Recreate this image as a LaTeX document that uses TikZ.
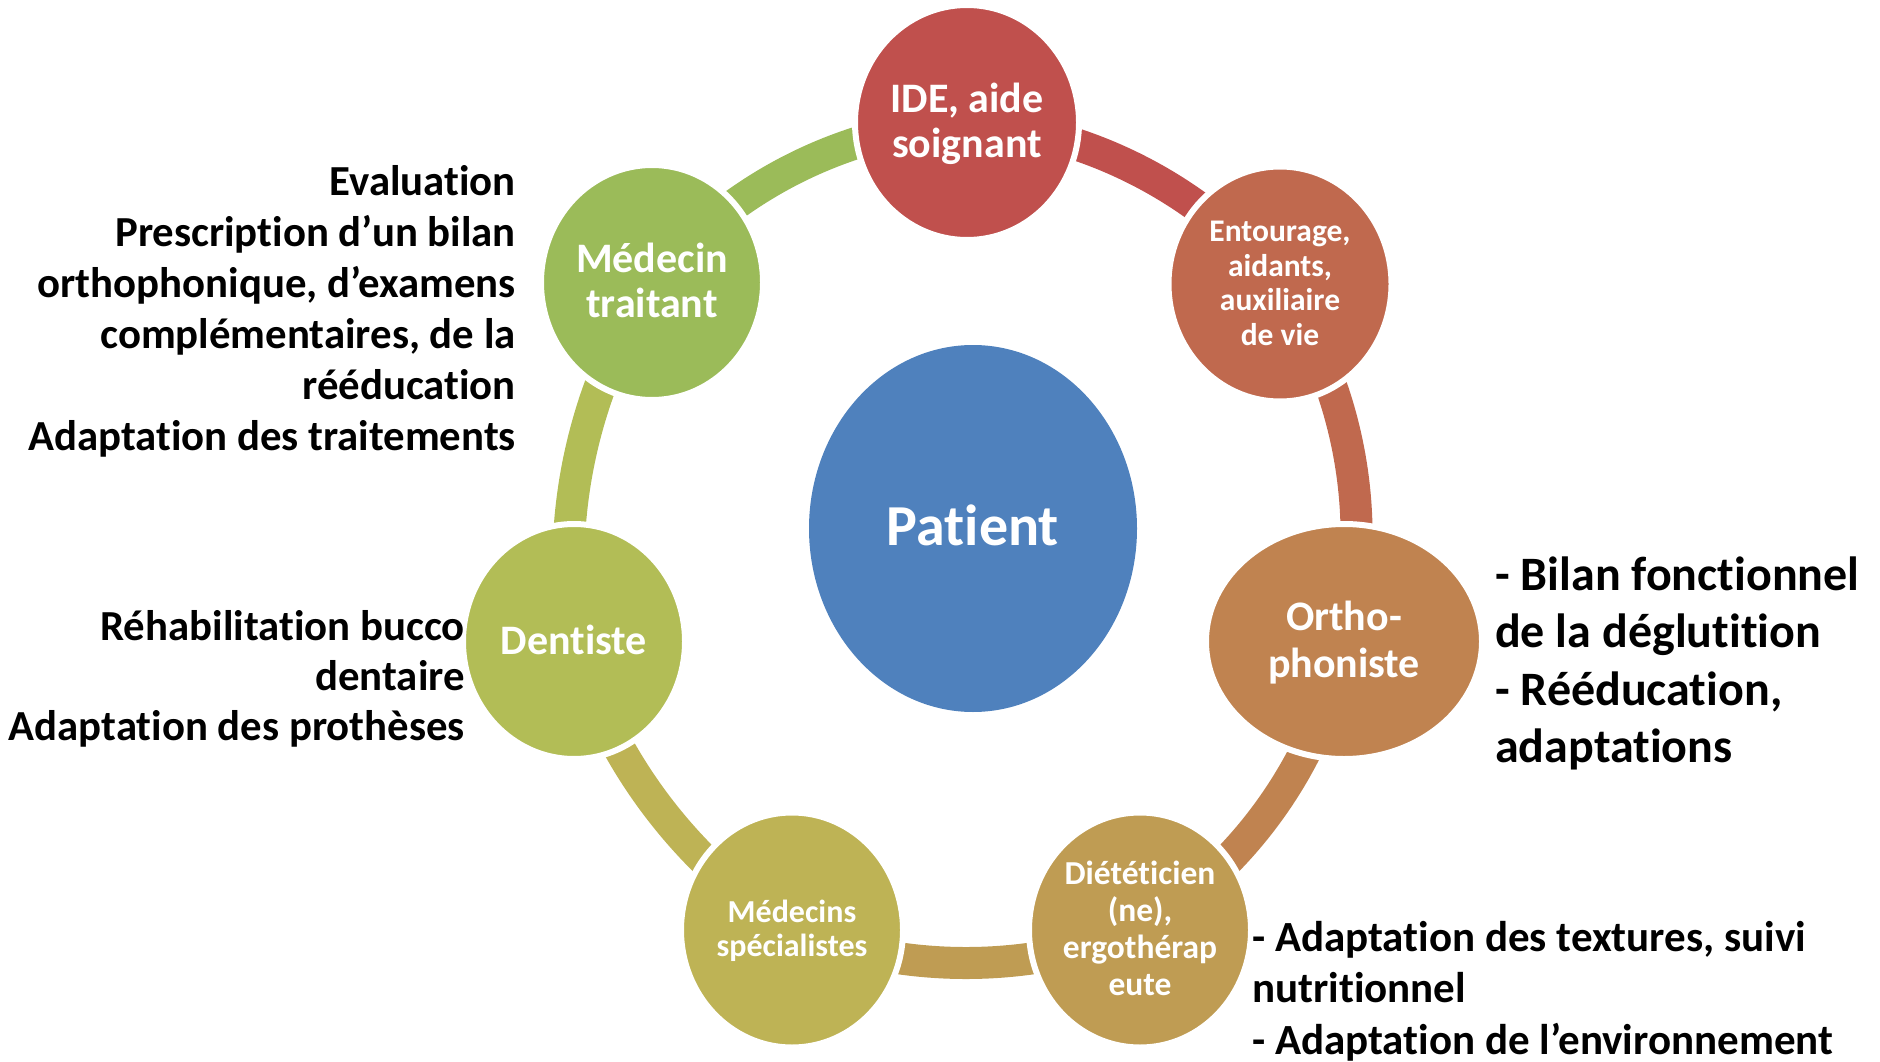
\documentclass[tikz,border=0pt]{standalone}
\usepackage{fontspec}
\setmainfont{Carlito}[Ligatures={NoCommon}]
\usetikzlibrary{shapes.geometric}
\pgfdeclarelayer{bg}
\pgfsetlayers{bg,main}
\definecolor{cIde}{HTML}{C0504D}
\definecolor{cEnt}{HTML}{C0694E}
\definecolor{cOrt}{HTML}{C08350}
\definecolor{cDie}{HTML}{BF9C53}
\definecolor{cSpe}{HTML}{BEB355}
\definecolor{cDen}{HTML}{B2BD56}
\definecolor{cMed}{HTML}{9BBB59}
\definecolor{cPat}{HTML}{4F81BD}
\newcommand{\ls}{\rule[-.25em]{0pt}{1em}}
\newcommand{\lsn}{\rule[-.2em]{0pt}{1em}}
\begin{document}
\begin{tikzpicture}[x=1pt,y=-1pt,
  bub/.style={ellipse, draw=white, line width=6pt, inner sep=0pt, text=white, align=center},
  big/.style={font=\bfseries\fontsize{42}{45}\selectfont},
  ringarc/.style={line width=32pt, line cap=butt, bend left=#1, looseness=0.885},
  side/.style={inner sep=0pt, text=black}]
\useasboundingbox (0,0) rectangle (1880,1062);

% central node
\node[ellipse, fill=cPat, inner sep=0pt, minimum width=328pt, minimum height=367pt, text=white,
      font=\bfseries\fontsize{58}{60}\selectfont] (pat) at (973,528.5) {\lsn Patient};

% cycle nodes
\node[bub, big, fill=cIde, minimum width=224pt, minimum height=235pt] (ide) at (967,122.5) {\lsn IDE, aide\\\lsn soignant};
\node[bub, fill=cEnt, minimum width=223pt, minimum height=235pt, font=\bfseries\fontsize{31.5}{34.5}\selectfont, yshift=-1.5pt] (ent) at (1280,282.5)
  {\lsn Entourage,\\\lsn aidants,\\\lsn auxiliaire\\\lsn de vie};
\node[bub, big, fill=cOrt, minimum width=276pt, minimum height=235pt, font=\bfseries\fontsize{42}{46.5}\selectfont] (ort) at (1344,641.5) {\lsn Ortho-\\\lsn phoniste};
\node[bub, fill=cDie, minimum width=222pt, minimum height=235pt, font=\bfseries\fontsize{33.5}{37}\selectfont] (die) at (1140,930)
  {\lsn Diététicien\\\lsn (ne),\\\lsn ergothérap\\\lsn eute};
\node[bub, fill=cSpe, minimum width=222pt, minimum height=235pt, font=\bfseries\fontsize{32}{33.5}\selectfont] (spe) at (792,930)
  {\lsn Médecins\\\lsn spécialistes};
\node[bub, big, fill=cDen, minimum width=222pt, minimum height=235pt] (den) at (574,641.5) {\lsn Dentiste};
\node[bub, big, fill=cMed, minimum width=222pt, minimum height=235pt] (med) at (652,282.5) {\lsn Médecin\\\lsn traitant};

% ring arcs
\begin{pgfonlayer}{bg}
\draw[ringarc=24, cMed] (med.center) to (ide.center);
\draw[ringarc=23.2, cIde] (ide.center) to (ent.center);
\draw[ringarc=23.8, cEnt] (ent.center) to (ort.center);
\draw[ringarc=23.5, cOrt] (ort.center) to (die.center);
\draw[ringarc=21.5, cDie] (die.center) to (spe.center);
\draw[ringarc=20.6, cSpe] (spe.center) to (den.center);
\draw[ringarc=20.7, cDen] (den.center) to (med.center);
\end{pgfonlayer}

% side texts
\node[side, anchor=north east, align=right, font=\bfseries\fontsize{42.8}{51}\selectfont] (tmed) at (516,162.9)
  {\ls Evaluation\\\ls Prescription d’un bilan\\\ls orthophonique, d’examens\\\ls complémentaires, de la\\\ls rééducation\\\ls Adaptation des traitements};
\node[side, anchor=north east, align=right, font=\bfseries\fontsize{42.8}{50}\selectfont] (tden) at (465,607.9)
  {\ls Réhabilitation bucco\\\ls dentaire\\\ls Adaptation des prothèses};
\node[side, anchor=north west, align=left, font=\bfseries\fontsize{48}{57.5}\selectfont] (tort) at (1495,554)
  {\ls - Bilan fonctionnel\\\ls de la déglutition\\\ls - Rééducation,\\\ls adaptations};
\node[side, anchor=north west, align=left, font=\bfseries\fontsize{43}{51.5}\selectfont] (tdie) at (1252,918.75)
  {\ls - Adaptation des textures, suivi\\\ls nutritionnel\\\ls - Adaptation de l’environnement};
\end{tikzpicture}
\end{document}
